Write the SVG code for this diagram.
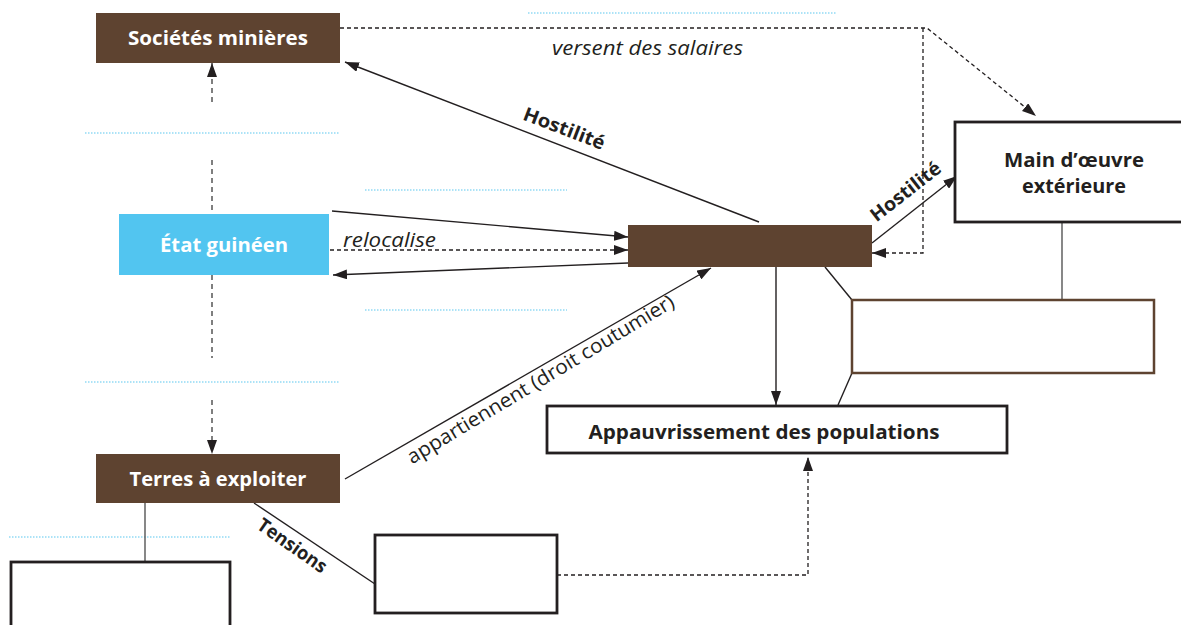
<svg xmlns="http://www.w3.org/2000/svg" width="1181" height="625" viewBox="0 0 1181 625">
<defs>
<marker id="ah" viewBox="0 0 14 10" refX="14" refY="5" markerWidth="14" markerHeight="10" markerUnits="userSpaceOnUse" orient="auto">
<path d="M0,0 L14,5 L0,10 Z" fill="#231f20"/>
</marker>
<style>
.bg{fill:#ffffff}
.brown{fill:#5e4330}
.blue{fill:#52c5f0}
.box{fill:#ffffff;stroke:#231f20;stroke-width:2.8}
.bbox{fill:#ffffff;stroke:#5e4330;stroke-width:2.5}
.ln{fill:none;stroke:#231f20;stroke-width:1.4}
.gl{fill:none;stroke:#555555;stroke-width:1.4}
.ds{fill:none;stroke:#231f20;stroke-width:1.3;stroke-dasharray:4 3}
.gds{fill:none;stroke:#555555;stroke-width:1.5;stroke-dasharray:5 4}
.arr{marker-end:url(#ah)}
.dot{fill:none;stroke:#5bc8f0;stroke-width:1.2;stroke-dasharray:1.5 1.5}
.tw{font-family:"Open Sans",Lato,sans-serif;font-weight:bold;font-size:20px;fill:#ffffff;text-anchor:middle}
.tb{font-family:"Open Sans",Lato,sans-serif;font-weight:bold;font-size:20px;fill:#231f20;text-anchor:middle}
.ti{font-family:"Open Sans",Lato,sans-serif;font-style:italic;font-size:20px;fill:#231f20}
.tl{font-family:"Open Sans",Lato,sans-serif;font-weight:bold;font-size:19px;fill:#231f20;text-anchor:middle}
.tr{font-family:"Open Sans",Lato,sans-serif;font-size:20px;fill:#231f20;text-anchor:middle}
</style>
</defs>
<rect class="bg" x="0" y="0" width="1181" height="625"/>
<g id="guides">
<line class="dot" x1="528" y1="13" x2="836" y2="13"/>
<line class="dot" x1="85" y1="133" x2="340" y2="133"/>
<line class="dot" x1="365" y1="190" x2="567" y2="190"/>
<line class="dot" x1="365" y1="310" x2="567" y2="310"/>
<line class="dot" x1="85" y1="382" x2="340" y2="382"/>
<line class="dot" x1="9" y1="537" x2="230" y2="537"/>
</g>
<g id="connectors">
<line class="gds arr" x1="212" y1="102" x2="212" y2="63"/>
<line class="gds" x1="212" y1="160" x2="212" y2="214"/>
<line class="gds" x1="212" y1="275" x2="212" y2="358"/>
<line class="gds arr" x1="212" y1="400" x2="212" y2="454"/>
<polyline class="ds arr" points="340,28 927,28 1036,116"/>
<polyline class="ds arr" points="923,28 923,253 872,253"/>
<line class="ln arr" x1="759" y1="222" x2="345" y2="62"/>
<line class="ln arr" x1="872" y1="243" x2="957" y2="176"/>
<line class="ln arr" x1="332" y1="211" x2="628" y2="237"/>
<line class="ds arr" x1="330" y1="250" x2="628" y2="250"/>
<line class="ln arr" x1="628" y1="263" x2="333" y2="275"/>
<line class="ln arr" x1="345" y1="479" x2="711" y2="268"/>
<line class="ln arr" x1="776" y1="267" x2="776" y2="405"/>
<line class="ln" x1="825" y1="267" x2="852" y2="300"/>
<line class="ln" x1="852" y1="373" x2="838" y2="405"/>
<line class="gl" x1="1062" y1="222" x2="1062" y2="300"/>
<line class="gl" x1="145" y1="503" x2="145" y2="562"/>
<line class="ln" x1="254" y1="503" x2="375" y2="584"/>
<polyline class="ds arr" points="557,575 808,575 808,457"/>
<text class="ti" x="552" y="55" textLength="191" lengthAdjust="spacingAndGlyphs">versent des salaires</text>
<text class="ti" x="343" y="247" textLength="93" lengthAdjust="spacingAndGlyphs">relocalise</text>
<text class="tl" transform="translate(564,129) rotate(21)" y="6" textLength="86" lengthAdjust="spacingAndGlyphs">Hostilité</text>
<text class="tl" transform="translate(906,192) rotate(-38)" y="6" textLength="84" lengthAdjust="spacingAndGlyphs">Hostilité</text>
<text class="tl" transform="translate(292,546) rotate(35)" y="6" textLength="80" lengthAdjust="spacingAndGlyphs">Tensions</text>
<text class="tr" transform="translate(541,380) rotate(-31)" y="6" textLength="308" lengthAdjust="spacingAndGlyphs">appartiennent (droit coutumier)</text>
</g>
<g id="societes">
<rect class="brown" x="96" y="13" width="244" height="50"/>
<text class="tw" x="218" y="45" textLength="180" lengthAdjust="spacingAndGlyphs">Sociétés minières</text>
</g>
<g id="etat">
<rect class="blue" x="119" y="214" width="210" height="61"/>
<text class="tw" x="224" y="252" textLength="128" lengthAdjust="spacingAndGlyphs">État guinéen</text>
</g>
<g id="terres">
<rect class="brown" x="96" y="454" width="244" height="49"/>
<text class="tw" x="218" y="486" textLength="177" lengthAdjust="spacingAndGlyphs">Terres à exploiter</text>
</g>
<g id="central">
<rect class="brown" x="628" y="225" width="244" height="42"/>
</g>
<g id="main-oeuvre">
<rect class="box" x="955" y="122" width="240" height="100"/>
<text class="tb" x="1074" y="167" textLength="140" lengthAdjust="spacingAndGlyphs">Main d’œuvre</text>
<text class="tb" x="1074" y="193" textLength="104" lengthAdjust="spacingAndGlyphs">extérieure</text>
</g>
<g id="empty-brown">
<rect class="bbox" x="852" y="300" width="302" height="73"/>
</g>
<g id="appauvrissement">
<rect class="box" x="547" y="406" width="460" height="47"/>
<text class="tb" x="764" y="439" textLength="351" lengthAdjust="spacingAndGlyphs">Appauvrissement des populations</text>
</g>
<g id="empty-bottom">
<rect class="box" x="375" y="535" width="182" height="78"/>
</g>
<g id="empty-left">
<rect class="box" x="11" y="562" width="219" height="80"/>
</g>
</svg>
